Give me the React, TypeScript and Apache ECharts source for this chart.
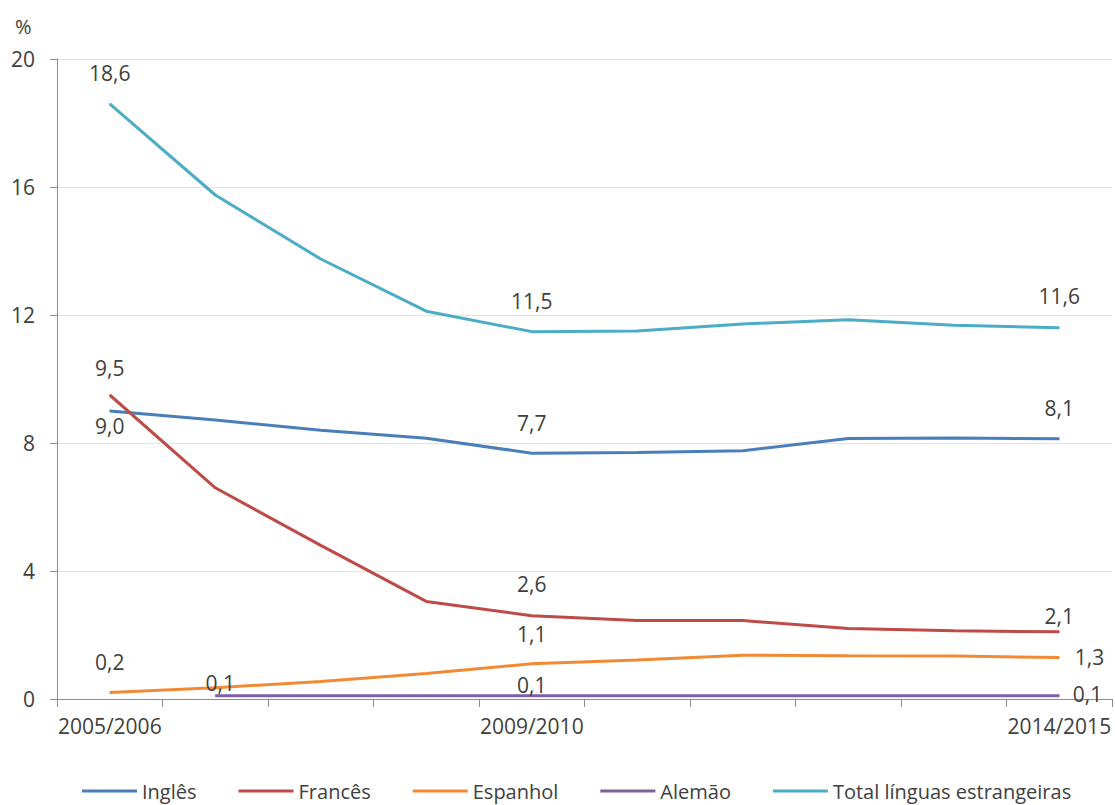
import React, { useEffect, useRef } from "react";
import * as echarts from "echarts";

const categories = [
  "2005/2006", "2006/2007", "2007/2008", "2008/2009", "2009/2010",
  "2010/2011", "2011/2012", "2012/2013", "2013/2014", "2014/2015",
];
const ingles = [9.0, 8.72, 8.4, 8.15, 7.68, 7.7, 7.76, 8.14, 8.16, 8.13];
const frances = [9.5, 6.6, 4.8, 3.05, 2.6, 2.45, 2.45, 2.2, 2.13, 2.1];
const espanhol = [0.2, 0.35, 0.55, 0.8, 1.1, 1.22, 1.37, 1.35, 1.34, 1.3];
const alemao = [null, 0.1, 0.1, 0.1, 0.1, 0.1, 0.1, 0.1, 0.1, 0.1];
const total = [18.6, 15.75, 13.75, 12.12, 11.48, 11.5, 11.72, 11.85, 11.68, 11.6];
const seriesNames = ["Inglês", "Francês", "Espanhol", "Alemão", "Total línguas estrangeiras"];
const yTicks = { min: 0, max: 20, interval: 4 };
const shownXLabels = [0, 4, 9];

const FONT = "'Open Sans', sans-serif";
const TEXT = "#404040";

const fmt = (p: any) => {
  const v = typeof p.value === "number" ? p.value : Array.isArray(p.value) ? p.value[1] : p.value;
  return Number(v).toFixed(1).replace(".", ",");
};

type LabelSpec = { idx: number; position: string; distance: number; offset?: number[] };

function withLabels(values: (number | null)[], specs: LabelSpec[]) {
  return values.map((v, i) => {
    const s = specs.find((x) => x.idx === i);
    if (!s || v === null) return v;
    return {
      value: v,
      label: {
        show: true,
        position: s.position,
        distance: s.distance,
        offset: s.offset || [0, 0],
        formatter: fmt,
        color: TEXT,
        fontFamily: FONT,
        fontSize: 21,
      },
    };
  });
}

const colors = ["#4A7EBB", "#BE4B48", "#F28A35", "#7D60A0", "#4BACC6"];

function makeSeries(name: string, color: string, data: any[]) {
  return {
    name,
    type: "line",
    data,
    color,
    symbol: "circle",
    symbolSize: 1,
    showSymbol: true,
    connectNulls: false,
    lineStyle: { color, width: 3 },
    itemStyle: { color },
    label: { show: false },
    emphasis: { disabled: true },
  };
}

export default function App() {
  const ref = useRef<HTMLDivElement>(null);
  useEffect(() => {
    const chart = echarts.init(ref.current!, null, { renderer: "svg" });
    const option: any = {
      animation: false,
      backgroundColor: "#ffffff",
      grid: { left: 57, right: 3, top: 59, bottom: 106, containLabel: false },
      graphic: [
        {
          type: "text",
          left: 15,
          top: 16,
          style: { text: "%", fill: TEXT, font: `20px ${FONT}` },
        },
      ],
      legend: {
        show: true,
        left: 77,
        top: 776,
        itemGap: 42,
        itemWidth: 55,
        itemHeight: 3,
        icon: "rect",
        data: seriesNames,
        textStyle: { color: TEXT, fontFamily: FONT, fontSize: 20 },
      },
      xAxis: {
        type: "category",
        data: categories,
        boundaryGap: true,
        axisLine: { show: true, lineStyle: { color: "#8c8c8c", width: 1 } },
        axisTick: { show: true, interval: 0, length: 8, lineStyle: { color: "#8c8c8c" } },
        axisLabel: {
          interval: (i: number) => shownXLabels.includes(i),
          margin: 16,
          color: TEXT,
          fontFamily: FONT,
          fontSize: 21,
        },
        splitLine: { show: false },
      },
      yAxis: {
        type: "value",
        min: yTicks.min,
        max: yTicks.max,
        interval: yTicks.interval,
        axisLine: { show: true, lineStyle: { color: "#8c8c8c", width: 1 } },
        axisTick: { show: true, length: 7, lineStyle: { color: "#8c8c8c" } },
        axisLabel: { margin: 22, color: TEXT, fontFamily: FONT, fontSize: 21 },
        splitLine: { show: true, lineStyle: { color: "#e2e2e2", width: 1 } },
      },
      series: [
        makeSeries(seriesNames[0], colors[0], withLabels(ingles, [
          { idx: 0, position: "bottom", distance: 4 },
          { idx: 4, position: "top", distance: 19 },
          { idx: 9, position: "top", distance: 20 },
        ])),
        makeSeries(seriesNames[1], colors[1], withLabels(frances, [
          { idx: 0, position: "top", distance: 16 },
          { idx: 4, position: "top", distance: 21 },
          { idx: 9, position: "top", distance: 5 },
        ])),
        makeSeries(seriesNames[2], colors[2], withLabels(espanhol, [
          { idx: 0, position: "top", distance: 20 },
          { idx: 4, position: "top", distance: 19 },
          { idx: 9, position: "right", distance: 15 },
        ])),
        makeSeries(seriesNames[3], colors[3], withLabels(alemao, [
          { idx: 1, position: "top", distance: 2, offset: [5, 0] },
          { idx: 4, position: "top", distance: 0 },
          { idx: 9, position: "right", distance: 13, offset: [0, -2] },
        ])),
        makeSeries(seriesNames[4], colors[4], withLabels(total, [
          { idx: 0, position: "top", distance: 20 },
          { idx: 4, position: "top", distance: 20 },
          { idx: 9, position: "top", distance: 21 },
        ])),
      ],
    };
    chart.setOption(option);
    return () => chart.dispose();
  }, []);
  return (
    <div
      ref={ref}
      style={{ position: "fixed", left: 0, top: 0, width: 1115, height: 805, background: "#fff" }}
    />
  );
}
